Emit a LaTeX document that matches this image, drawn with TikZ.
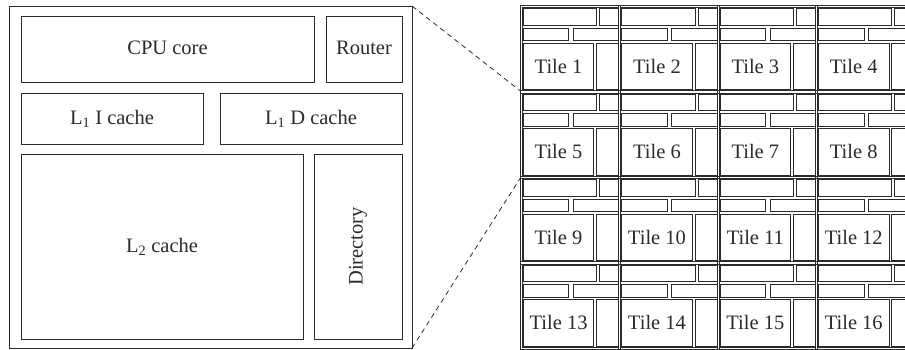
\documentclass[tikz,border=0pt]{standalone}
\usepackage{fontspec}
\setmainfont{Liberation Serif}
\definecolor{ink}{HTML}{2B2B2B}
\newcommand\lbl{\fontsize{20.5}{24}\selectfont}
% \chipblock{style}{name}{x1}{y1}{x2}{y2}{text}: a box spanning the two corners
\newcommand\chipblock[7]{%
  \pgfmathsetmacro\cbw{(#5)-(#3)}%
  \pgfmathsetmacro\cbh{(#6)-(#4)}%
  \pgfmathsetmacro\cbx{((#3)+(#5))/2}%
  \pgfmathsetmacro\cby{((#4)+(#6))/2}%
  \node[#1, minimum width=\cbw pt, minimum height=\cbh pt] (#2) at (\cbx,\cby) {#7};}
\begin{document}
\begin{tikzpicture}[x=1pt,y=-1pt,
  blk/.style={draw=ink, line width=0.9pt, inner sep=0pt, outer sep=0pt, font=\lbl, text=ink},
  tblk/.style={blk, line width=0.7pt},
  frame/.style={draw=ink, line width=0.6pt, inner sep=0pt, outer sep=0pt},
  link/.style={draw=ink, line width=0.8pt, dash pattern=on 5pt off 4pt}]
\useasboundingbox (0,0) rectangle (905,349);
\clip (0,0) rectangle (905,349);

% one tile, drawn at full size
\chipblock{blk}{chip}{9}{6}{412}{348}{}
\chipblock{blk}{cpu}{21}{16}{314}{82}{\raisebox{3pt}{CPU core}}
\chipblock{blk}{router}{326}{16}{402}{82}{\raisebox{3pt}{Router}}
\chipblock{blk}{l1i}{21}{93}{203}{144}{L\textsubscript{1} I cache}
\chipblock{blk}{l1d}{220}{93}{402}{144}{L\textsubscript{1} D cache}
\chipblock{blk}{l2}{21}{154}{303}{339}{\raisebox{2pt}{L\textsubscript{2} cache}}
\chipblock{blk}{dir}{314}{154}{402}{339}{\rotatebox{90}{Directory}}

% 4x4 mesh of tiles
\foreach \r in {0,...,3}{
  \foreach \c in {0,...,3}{
    \pgfmathtruncatemacro\n{4*\r+\c+1}
    \pgfmathsetmacro\gx{521.2+98.4*\c}
    \pgfmathsetmacro\gy{6.3+85.5*\r}
    \pgfmathsetmacro\ox{\gx-0.9}
    % double frame of the cell
    \node[frame, minimum width=100.6pt, minimum height=87.7pt] (cell\n) at (\gx+49.2,\gy+42.75) {};
    \node[frame, minimum width=96.2pt, minimum height=83.3pt] (celli\n) at (\gx+49.2,\gy+42.75) {};
    % scaled-down floor plan
    \chipblock{tblk}{t\n-cpu}{\ox+3}{\gy+2.5}{\ox+76.25}{\gy+19}{}
    \chipblock{tblk}{t\n-rt}{\ox+79.25}{\gy+2.5}{\ox+98.25}{\gy+19}{}
    \chipblock{tblk}{t\n-li}{\ox+3}{\gy+21.75}{\ox+48.5}{\gy+34.5}{}
    \chipblock{tblk}{t\n-ld}{\ox+52.75}{\gy+21.75}{\ox+98.25}{\gy+34.5}{}
    \chipblock{tblk}{t\n-l2}{\ox+3}{\gy+37}{\ox+73.5}{\gy+83.25}{Tile \n}
    \chipblock{tblk}{t\n-dir}{\ox+76.25}{\gy+37}{\ox+98.25}{\gy+83.25}{}
  }
}

% zoom lines from the tile to its place in the mesh
\draw[link] (chip.north east) -- (cell5.north west);
\draw[link] (chip.south east) -- (cell5.south west);
\end{tikzpicture}
\end{document}
